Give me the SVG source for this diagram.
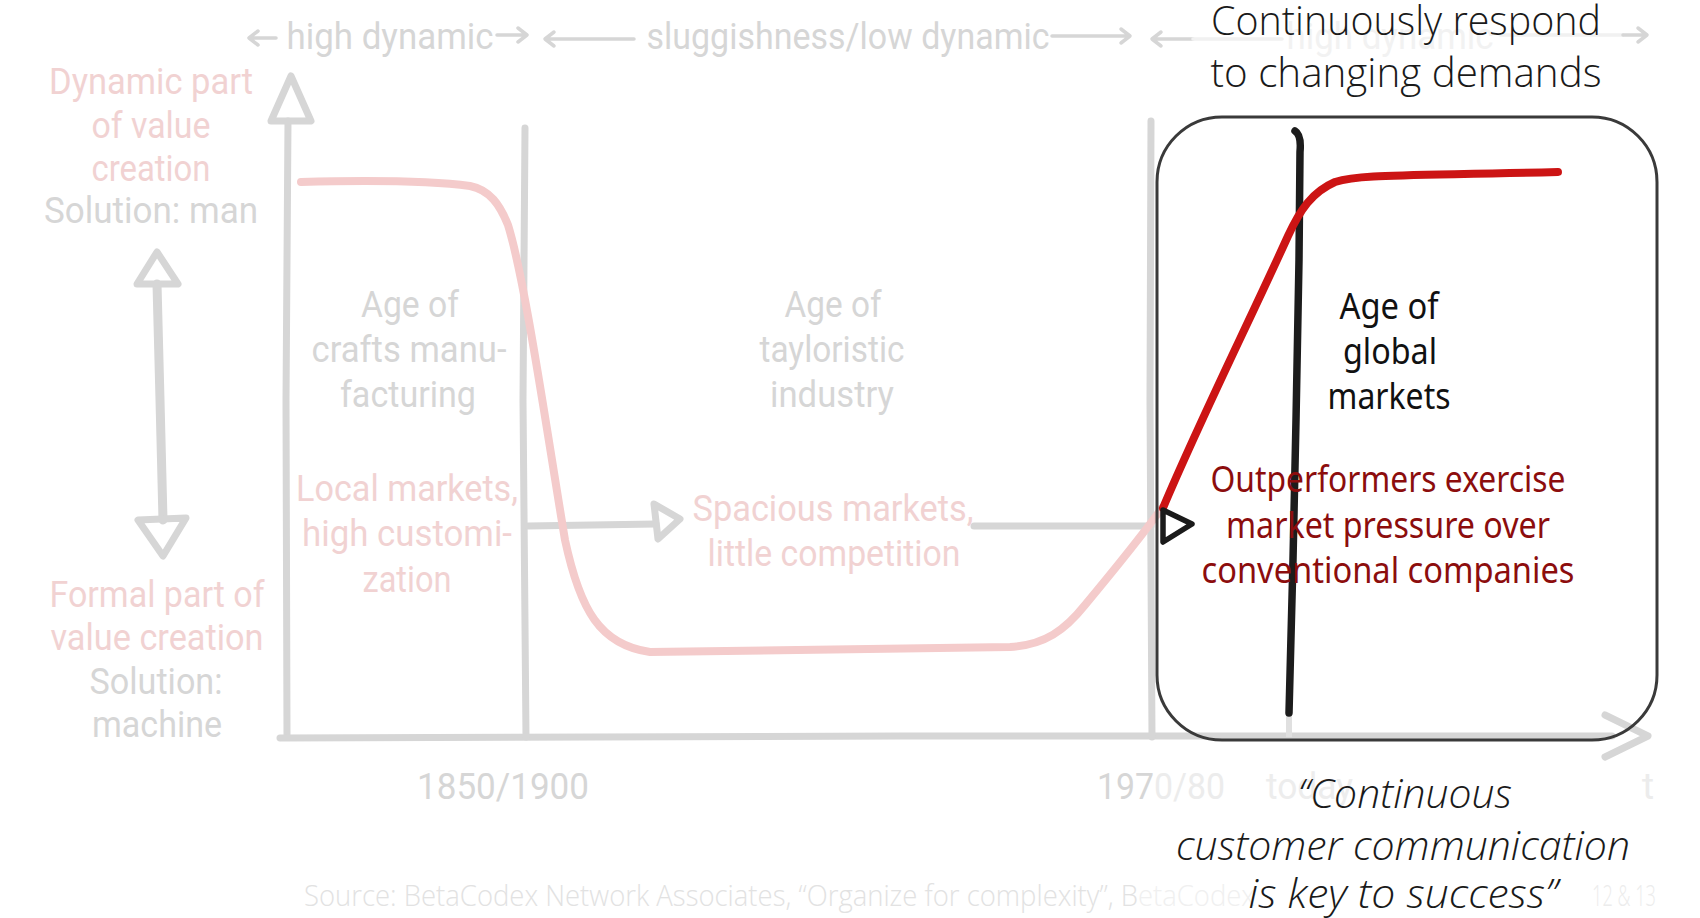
<svg xmlns="http://www.w3.org/2000/svg" width="1700" height="918" viewBox="0 0 1700 918">
<style>
.g{font-family:Roboto,"Liberation Sans",sans-serif;font-size:37px;fill:#d6d6d6;text-anchor:middle}
.p{fill:#f1d2d2}
.ln{fill:none;stroke:#d6d6d6;stroke-width:7;stroke-linecap:round;stroke-linejoin:round}
.ar{fill:none;stroke:#d6d6d6;stroke-width:3.5;stroke-linecap:round;stroke-linejoin:round}
.b{font-family:"Noto Sans","Open Sans",sans-serif;font-size:36px;text-anchor:middle}
.q{font-family:"Open Sans","Noto Sans",sans-serif;font-weight:300;font-size:41px;fill:#1a1a1a;text-anchor:middle}
.src{font-family:"Open Sans","Noto Sans",sans-serif;font-weight:300;font-size:29px;fill:#e2e2e2}
</style>
<rect width="1700" height="918" fill="#ffffff"/>

<g id="top-row">
  <path class="ar" d="M276,38 L249,38 M258,31 L249,38 L258,45"/>
  <text class="g" x="390" y="49" textLength="207" lengthAdjust="spacingAndGlyphs">high dynamic</text>
  <path class="ar" d="M497,35 L527,35 M518,28 L527,35 L518,42"/>
  <path class="ar" d="M634,39 L545,39 M554,32 L545,39 L554,46"/>
  <text class="g" x="848" y="49" textLength="403" lengthAdjust="spacingAndGlyphs">sluggishness/low dynamic</text>
  <path class="ar" d="M1052,36 L1130,36 M1121,29 L1130,36 L1121,43"/>
  <path class="ar" d="M1193,39 L1152,39 M1161,32 L1152,39 L1161,46"/>
  <path class="ar" style="stroke:#f1f1f1" d="M1193,39 L1282,39 M1500,35 L1623,35"/>
  <text class="g" x="1390" y="49" textLength="207" lengthAdjust="spacingAndGlyphs" style="fill:#f2f2f2">high dynamic</text>
  <path class="ar" d="M1623,35 L1647,35 M1638,28 L1647,35 L1638,42"/>
</g>

<g id="y-axis-labels">
  <text class="g p" x="151" y="94" textLength="204" lengthAdjust="spacingAndGlyphs">Dynamic part</text>
  <text class="g p" x="151" y="138" textLength="119" lengthAdjust="spacingAndGlyphs">of value</text>
  <text class="g p" x="151" y="181" textLength="119" lengthAdjust="spacingAndGlyphs">creation</text>
  <text class="g" x="151" y="223" textLength="214" lengthAdjust="spacingAndGlyphs">Solution: man</text>
  <text class="g p" x="157" y="607" textLength="215" lengthAdjust="spacingAndGlyphs">Formal part of</text>
  <text class="g p" x="157" y="650" textLength="213" lengthAdjust="spacingAndGlyphs">value creation</text>
  <text class="g" x="156" y="694" textLength="133" lengthAdjust="spacingAndGlyphs">Solution:</text>
  <text class="g" x="157" y="737" textLength="130" lengthAdjust="spacingAndGlyphs">machine</text>
</g>

<g id="double-arrow">
  <path class="ln" style="stroke-width:9" d="M157,284 L160,400 L163,520"/>
  <path class="ln" d="M157,252 L178,284 L137,284 Z"/>
  <path class="ln" d="M138,520 L186,518 L163,556 Z"/>
</g>

<g id="axes">
  <path class="ln" d="M287,737 L286,400 L288,121"/>
  <path class="ln" d="M291,76 L311,121 L271,121 Z"/>
  <path class="ln" d="M280,738 L900,736 L1612,736"/>
  <path class="ln" d="M1605,715 L1648,736 L1605,757"/>
  <path class="ln" d="M525,128 L523,400 L526,737"/>
  <path class="ln" d="M1151,121 L1150,400 L1152,737"/>
</g>

<g id="connectors">
  <path class="ln" d="M528,526 L656,524"/>
  <path class="ln" d="M654,504 L680,519 L658,539 Z"/>
  <path class="ln" d="M974,526 L1151,526"/>
</g>

<g id="faded-curve">
  <path fill="none" stroke="#f4cbcb" stroke-width="8" stroke-linecap="round" stroke-linejoin="round" d="M301,182 C380,180 440,182 470,186 C490,190 500,205 508,225 C525,280 545,420 565,540 C580,610 600,645 650,652 L1010,647 C1045,645 1065,630 1085,605 C1110,575 1135,545 1162,508"/>
</g>

<g id="age-crafts">
  <text class="g" x="410" y="317" textLength="98" lengthAdjust="spacingAndGlyphs">Age of</text>
  <text class="g" x="409" y="362" textLength="195" lengthAdjust="spacingAndGlyphs">crafts manu-</text>
  <text class="g" x="408" y="407" textLength="136" lengthAdjust="spacingAndGlyphs">facturing</text>
  <text class="g p" x="407" y="501" textLength="222" lengthAdjust="spacingAndGlyphs">Local markets,</text>
  <text class="g p" x="407" y="546" textLength="210" lengthAdjust="spacingAndGlyphs">high customi-</text>
  <text class="g p" x="407" y="592" textLength="89" lengthAdjust="spacingAndGlyphs">zation</text>
</g>

<g id="age-tayloristic">
  <text class="g" x="833" y="317" textLength="97" lengthAdjust="spacingAndGlyphs">Age of</text>
  <text class="g" x="832" y="362" textLength="145" lengthAdjust="spacingAndGlyphs">tayloristic</text>
  <text class="g" x="832" y="407" textLength="124" lengthAdjust="spacingAndGlyphs">industry</text>
  <text class="g p" x="833" y="521" textLength="281" lengthAdjust="spacingAndGlyphs">Spacious markets,</text>
  <text class="g p" x="834" y="566" textLength="253" lengthAdjust="spacingAndGlyphs">little competition</text>
</g>

<g id="x-labels">
  <text class="g" x="503" y="799" textLength="172" lengthAdjust="spacingAndGlyphs">1850/1900</text>
  <text class="g" x="1161" y="799" textLength="128" lengthAdjust="spacingAndGlyphs"><tspan>197</tspan><tspan style="fill:#ececec">0/80</tspan></text>
  <text class="g" x="1266" y="799" textLength="87" lengthAdjust="spacingAndGlyphs" style="text-anchor:start;fill:#ededed">today</text>
  <text class="g" x="1648" y="799" style="fill:#ececec">t</text>
</g>

<g id="source">
  <text class="src" x="304" y="906" textLength="951" lengthAdjust="spacingAndGlyphs">Source: BetaCodex Network Associates, “Organize for complexity”, B<tspan style="fill:#f0f0f0">etaCodex</tspan></text>
  <text class="src" x="1592" y="906" textLength="64" lengthAdjust="spacingAndGlyphs" style="fill:#ececec">12 &amp; 13</text>
</g>

<g id="highlight-box">
  <path fill="none" stroke="#e0e0e0" stroke-width="6" d="M1289,713 L1289,737"/>
  <path fill="none" stroke="#1c1c1c" stroke-width="7.5" stroke-linecap="round" stroke-linejoin="round" d="M1295,131 C1300,134 1301,141 1300,152 L1299,260 L1296,420 L1293,560 L1289,713"/>
  <path fill="none" stroke="#cc1414" stroke-width="8" stroke-linecap="round" stroke-linejoin="round" d="M1163,508 C1200,420 1250,320 1288,236 C1300,210 1312,192 1335,182 C1360,174 1400,176 1558,172"/>
  <path fill="none" stroke="#1a1a1a" stroke-width="5.5" stroke-linejoin="round" d="M1163,510 L1192,524 L1163,542 Z"/>
  <rect x="1157" y="117" width="500" height="623" rx="65" fill="none" stroke="#3a3a3a" stroke-width="3"/>
  <text class="b" x="1389" y="319" fill="#111111" textLength="99" lengthAdjust="spacingAndGlyphs">Age of</text>
  <text class="b" x="1390" y="364" fill="#111111" textLength="94" lengthAdjust="spacingAndGlyphs">global</text>
  <text class="b" x="1389" y="409" fill="#111111" textLength="123" lengthAdjust="spacingAndGlyphs">markets</text>
  <text class="b" x="1388" y="492" fill="#8c0d0d" textLength="355" lengthAdjust="spacingAndGlyphs">Outperformers exercise</text>
  <text class="b" x="1388" y="538" fill="#8c0d0d" textLength="324" lengthAdjust="spacingAndGlyphs">market pressure over</text>
  <text class="b" x="1388" y="583" fill="#8c0d0d" textLength="373" lengthAdjust="spacingAndGlyphs">conventional companies</text>
</g>

<g id="headline">
  <text class="q" x="1406" y="35" textLength="390" lengthAdjust="spacingAndGlyphs">Continuously respond</text>
  <text class="q" x="1406" y="87" textLength="391" lengthAdjust="spacingAndGlyphs">to changing demands</text>
</g>

<g id="quote">
  <text class="q" x="1405" y="808" font-style="italic" textLength="214" lengthAdjust="spacingAndGlyphs">“Continuous</text>
  <text class="q" x="1403" y="860" font-style="italic" textLength="454" lengthAdjust="spacingAndGlyphs">customer communication</text>
  <text class="q" x="1403" y="908" font-style="italic" textLength="309" lengthAdjust="spacingAndGlyphs">is key to success”</text>
</g>
</svg>
